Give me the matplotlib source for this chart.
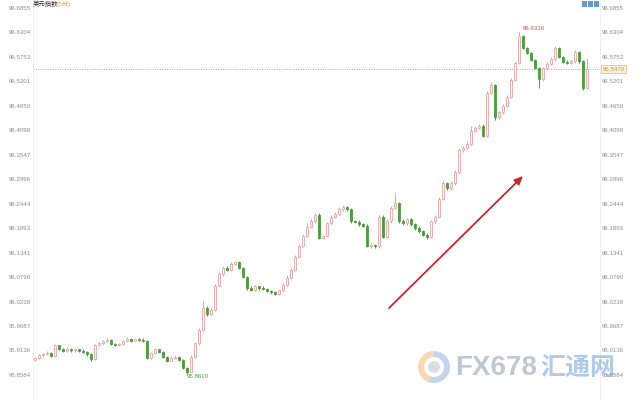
import matplotlib
matplotlib.use("Agg")
import matplotlib.pyplot as plt
from matplotlib.patches import Rectangle, Circle, Wedge
import matplotlib.transforms as mtransforms

# 5-minute closes of the dollar index
closes = [
    95.897, 95.903, 95.905, 95.909, 95.901, 95.925, 95.918, 95.913, 95.918, 95.914,
    95.916, 95.913, 95.910, 95.905, 95.894, 95.925, 95.930, 95.935, 95.938, 95.929,
    95.926, 95.928, 95.935, 95.939, 95.936, 95.940, 95.938, 95.935, 95.897, 95.908,
    95.916, 95.910, 95.900, 95.891, 95.897, 95.900, 95.893, 95.875, 95.866, 95.900,
    95.930, 95.960, 96.010, 95.995, 96.005, 96.060, 96.085, 96.100, 96.095, 96.108,
    96.112, 96.100, 96.080, 96.055, 96.050, 96.058, 96.055, 96.052, 96.048, 96.045,
    96.042, 96.050, 96.062, 96.078, 96.095, 96.125, 96.150, 96.172, 96.192, 96.205,
    96.220, 96.168, 96.172, 96.200, 96.215, 96.222, 96.232, 96.236, 96.232, 96.205,
    96.203, 96.198, 96.195, 96.150, 96.152, 96.148, 96.215, 96.170, 96.205, 96.235,
    96.245, 96.205, 96.200, 96.210, 96.198, 96.190, 96.182, 96.175, 96.170, 96.205,
    96.215, 96.255, 96.290, 96.280, 96.290, 96.315, 96.365, 96.370, 96.380, 96.408,
    96.415, 96.420, 96.398, 96.495, 96.512, 96.440, 96.450, 96.465, 96.485, 96.523,
    96.562, 96.622, 96.595, 96.584, 96.568, 96.550, 96.525, 96.550, 96.560, 96.570,
    96.595, 96.575, 96.564, 96.562, 96.565, 96.586, 96.565, 96.505, 96.547,
]
first_open = 95.893

# wick lengths above / below the body, in thousandths
wick_up = [
    2, 3, 2, 4, 2, 3, 2, 2, 3, 2, 2, 2, 3, 2, 2, 3, 3, 2, 4, 2,
    2, 3, 2, 4, 3, 2, 2, 3, 2, 3, 3, 2, 2, 2, 4, 3, 2, 2, 2, 3,
    3, 4, 15, 3, 4, 3, 6, 5, 3, 6, 4, 3, 2, 2, 3, 3, 2, 4, 2, 2,
    3, 3, 3, 5, 4, 3, 4, 5, 8, 5, 4, 3, 3, 4, 3, 4, 6, 5, 3, 3,
    3, 4, 3, 3, 3, 2, 3, 3, 4, 5, 23, 3, 4, 3, 3, 3, 4, 3, 3, 3,
    4, 5, 8, 4, 5, 6, 5, 4, 5, 12, 5, 4, 3, 4, 6, 3, 3, 4, 4, 5,
    5, 10, 3, 3, 3, 3, 3, 3, 3, 4, 5, 3, 3, 4, 3, 5, 3, 3, 25,
]
wick_dn = [
    3, 2, 3, 2, 3, 2, 3, 2, 2, 3, 3, 2, 2, 3, 3, 2, 2, 3, 2, 3,
    2, 2, 3, 2, 3, 2, 2, 3, 3, 2, 2, 3, 3, 3, 2, 2, 3, 3, 5, 2,
    3, 3, 2, 4, 3, 3, 2, 3, 3, 2, 2, 3, 3, 4, 3, 3, 4, 3, 3, 4,
    3, 3, 3, 3, 3, 3, 3, 3, 3, 3, 3, 3, 4, 3, 3, 3, 2, 3, 3, 4,
    3, 3, 3, 4, 5, 4, 3, 3, 3, 3, 3, 4, 3, 3, 3, 4, 3, 4, 5, 3,
    3, 3, 3, 5, 4, 3, 3, 4, 3, 3, 3, 3, 4, 3, 3, 6, 5, 3, 3, 3,
    3, 3, 3, 3, 3, 3, 20, 3, 3, 3, 3, 3, 3, 3, 3, 3, 3, 4, 3,
]

tick_values = [96.6855, 96.6304, 96.5753, 96.5201, 96.4650, 96.4098, 96.3547, 96.2996,
               96.2444, 96.1893, 96.1341, 96.0790, 96.0238, 95.9687, 95.9136, 95.8584]
tick_labels = ["%.4f" % v for v in tick_values]

last_price = 96.5470
high_price = 96.6316
low_price = 95.8610

plt.rcParams['font.family'] = ['Liberation Sans', 'Noto Sans CJK SC', 'DejaVu Sans']

fig = plt.figure(figsize=(6.4, 4), dpi=100)
ax = fig.add_axes([33 / 640, 0, (600 - 33) / 640, 1])

opens = [first_open] + closes[:-1]
up_col = '#e9a3a3'
dn_col = '#4f9a3f'
for i, (o, c) in enumerate(zip(opens, closes)):
    hi = max(o, c) + wick_up[i] / 1000
    lo = min(o, c) - wick_dn[i] / 1000
    col = up_col if c >= o else dn_col
    ax.vlines(i, lo, hi, color=col, linewidth=0.7, zorder=2)
    h = abs(c - o)
    if h < 0.0008:
        ax.hlines(c, i - 0.35, i + 0.35, color=col, linewidth=0.7, zorder=3)
    elif c >= o:
        ax.bar(i, h, bottom=o, width=0.7, facecolor='white', edgecolor=up_col,
               linewidth=0.6, zorder=3)
    else:
        ax.bar(i, h, bottom=c, width=0.7, facecolor=dn_col, edgecolor=dn_col,
               linewidth=0.6, zorder=3)

ax.set_xlim(-0.5, 141.25)
ax.set_ylim(96.6855 - 392 / 443.7, 96.6855 + 8 / 443.7)

ax.axhline(last_price, color='#7fb8ad', linestyle=(0, (1, 1.5)), linewidth=0.7, zorder=1)

ax.set_xticks([])
ax.set_yticks(tick_values)
ax.set_yticklabels(tick_labels)
ax.tick_params(axis='y', length=0, labelsize=4.4, labelcolor='#8c8c8c', pad=1.5,
               left=True, right=True, labelleft=True, labelright=True)
for s in ['top', 'bottom']:
    ax.spines[s].set_visible(False)
for s in ['left', 'right']:
    ax.spines[s].set_color('#ececec')
    ax.spines[s].set_linewidth(0.6)

# high / low annotations
ax.text(122, 96.640, "%.4f" % high_price, color='#d9534f', fontsize=4.4, va='center', ha='left')
ax.text(38, 95.854, "%.4f" % low_price, color='#4f9a3f', fontsize=4.4, va='center', ha='left')

# current price tag on the right axis
trans = mtransforms.blended_transform_factory(ax.transAxes, ax.transData)
ax.text(1.004, last_price, "%.4f" % last_price, transform=trans, color='#e08a2a',
        fontsize=4.4, va='center', ha='left',
        bbox=dict(boxstyle='square,pad=0.25', facecolor='#fdf1de', edgecolor='#f2b46a', linewidth=0.5))

# title
fig.text(33 / 640, 1 - 4 / 400, "美元指数", fontsize=4.6, color='#333333', va='center', ha='left')
fig.text(57 / 640, 1 - 4 / 400, "(5分)", fontsize=4.6, color='#f0a030', va='center', ha='left')

# trend arrow
ax.annotate("", xy=(525 / 640, 1 - 174 / 400), xytext=(387 / 640, 1 - 310 / 400),
            xycoords='figure fraction', textcoords='figure fraction',
            arrowprops=dict(arrowstyle='-|>,head_length=0.5,head_width=0.22',
                            color='#c62828', linewidth=1.3))

# toolbar icons top right
for k in range(3):
    fig.patches.append(Rectangle(((582 + k * 6) / 640, 1 - 7 / 400), 5 / 640, 6 / 400,
                                 transform=fig.transFigure, facecolor='#4a86c8',
                                 edgecolor='none', alpha=0.85))

# watermark
cx, cy, r = 434 / 640, 1 - 367 / 400, 16
fig.patches.append(Wedge((434, 33), r, 90, 250, width=6, transform=None,
                         facecolor='#f2a65a', alpha=0.45))
fig.patches.append(Wedge((434, 33), r, 250, 90, width=6, transform=None,
                         facecolor='#7aa3d6', alpha=0.45))
fig.patches.append(Circle((434, 33), 6, transform=None, facecolor='#b0b8c4', alpha=0.45))
fig.text(455 / 640, 1 - 368 / 400, "FX678", fontsize=20, fontweight='bold',
         color='#8c9bb3', alpha=0.55, va='center', ha='left')
fig.text(540 / 640, 1 - 368 / 400, "汇通网", fontsize=18, fontweight='bold',
         family=['Noto Sans CJK SC', 'DejaVu Sans'],
         color='#6f9fd8', alpha=0.55, va='center', ha='left')

fig.savefig("out.png", dpi=100)
